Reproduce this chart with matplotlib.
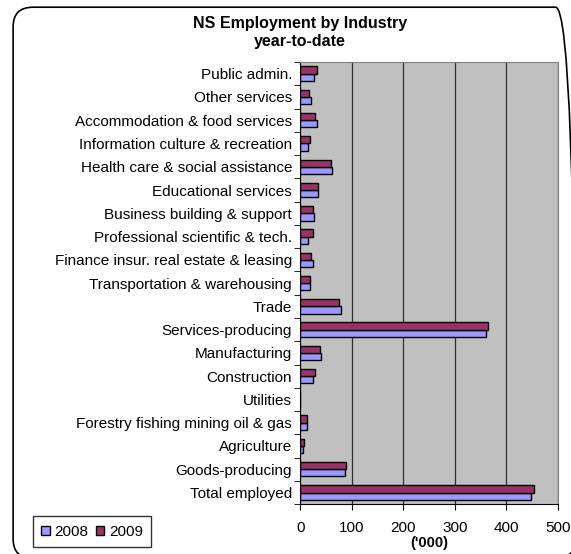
import matplotlib
matplotlib.use("Agg")
import matplotlib.pyplot as plt
from matplotlib.patches import FancyBboxPatch, Patch
import numpy as np

plt.rcParams['font.family'] = ['Liberation Sans', 'DejaVu Sans']

# data (bottom to top)
categories = ["Total employed", "Goods-producing", "Agriculture",
              "Forestry fishing mining oil & gas", "Utilities", "Construction",
              "Manufacturing", "Services-producing", "Trade",
              "Transportation & warehousing", "Finance insur. real estate & leasing",
              "Professional scientific & tech.", "Business building & support",
              "Educational services", "Health care & social assistance",
              "Information culture & recreation", "Accommodation & food services",
              "Other services", "Public admin."]
v2008 = [448, 86.5, 4.5, 13, 0, 24, 40.5, 361, 79, 18.5, 24, 15, 27, 35, 62, 15, 32, 21, 26.5]
v2009 = [454, 89, 8, 13, 0, 29, 37.5, 364, 76, 18, 21.5, 24, 24, 35, 59.5, 18, 29, 17.5, 31.5]

fig = plt.figure(figsize=(5.71, 5.54), dpi=100)
ax = fig.add_axes([0.526, 0.090, 0.451, 0.798])

y = np.arange(len(categories))
h = 0.31
ax.barh(y - h / 2, v2008, height=h, color="#9999FF", edgecolor="black", linewidth=1.0, label="2008")
ax.barh(y + h / 2, v2009, height=h, color="#993366", edgecolor="black", linewidth=1.0, label="2009")

ax.set_facecolor("#C0C0C0")
ax.set_xlim(0, 500)
ax.set_ylim(-0.5, len(categories) - 0.5)
ax.set_xticks([0, 100, 200, 300, 400, 500])
ax.xaxis.grid(True, color="#303030", linewidth=0.9)
ax.set_axisbelow(True)

ax.set_yticks(y)
ax.set_yticklabels(categories, fontsize=11)
ax.set_yticks(np.arange(-0.5, len(categories), 1), minor=True)
ax.tick_params(axis="y", which="major", length=0, pad=6)
ax.tick_params(axis="y", which="minor", length=4, direction="out")
ax.tick_params(axis="x", labelsize=11, length=4, direction="out", pad=8)
ax.set_xlabel("('000)", fontsize=10.5, fontweight="bold", labelpad=1)

for side in ["top", "right"]:
    ax.spines[side].set_color("#808080")
for side in ["left", "bottom"]:
    ax.spines[side].set_color("black")

fig.text(0.525, 0.958, "NS Employment by Industry", ha="center", va="center",
         fontsize=11.5, fontweight="bold")
fig.text(0.525, 0.925, "year-to-date", ha="center", va="center",
         fontsize=11.5, fontweight="bold")

handles = [Patch(facecolor="#9999FF", edgecolor="black", label="2008"),
           Patch(facecolor="#993366", edgecolor="black", label="2009")]
fig.legend(handles=handles, loc="lower left", bbox_to_anchor=(0.052, 0.007), ncol=2,
           fontsize=11, frameon=True, fancybox=False, edgecolor="black",
           handlelength=0.55, handleheight=0.55, handletextpad=0.3, columnspacing=0.5,
           borderpad=0.55, borderaxespad=0.2)

border = FancyBboxPatch((0.023, -0.008), 0.985, 0.995, boxstyle="round,pad=0,rounding_size=0.035",
                        transform=fig.transFigure, facecolor="none", edgecolor="black",
                        linewidth=1.2)
fig.patches.append(border)

fig.savefig("out.png", dpi=100)
